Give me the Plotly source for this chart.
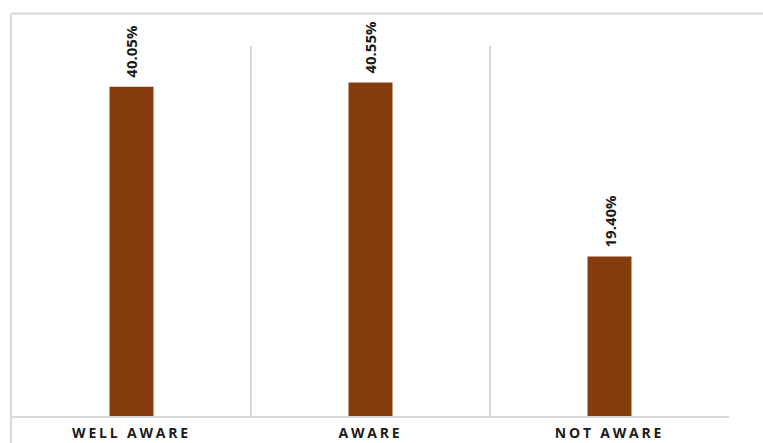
import plotly.graph_objects as go

categories = ["WELL AWARE", "AWARE", "NOT AWARE"]
values = [40.05, 40.55, 19.40]
labels = ["40.05%", "40.55%", "19.40%"]

BAR_COLOR = "#843C0C"
GRID = "#d9d9d9"

fig = go.Figure()
fig.add_trace(go.Bar(
    x=categories, y=values,
    marker=dict(color=BAR_COLOR, line=dict(width=0)),
    hoverinfo="skip",
))

for c, v, t in zip(categories, values, labels):
    fig.add_annotation(
        x=c, y=v, text=t, textangle=-90, showarrow=False,
        xanchor="center", yanchor="bottom", yshift=7,
        font=dict(family="Open Sans", size=15, color="#1a1a1a", weight="bold"),
    )

# chart border (top and left edges visible)
fig.add_shape(type="line", xref="paper", yref="paper",
              x0=-0.0015, x1=1.2, y0=1.0878, y1=1.0878,
              line=dict(color=GRID, width=2))
fig.add_shape(type="line", xref="paper", yref="paper",
              x0=-0.0015, x1=-0.0015, y0=-0.2, y1=1.0878,
              line=dict(color=GRID, width=2))

fig.update_layout(
    width=763, height=443,
    margin=dict(l=12, r=34, t=46, b=27),
    paper_bgcolor="white", plot_bgcolor="white",
    bargap=0.816,
    showlegend=False,
    xaxis=dict(
        type="category", tickson="boundaries",
        showgrid=True, gridcolor=GRID, gridwidth=1.5,
        showline=True, linecolor=GRID, linewidth=2,
        ticks="", ticklabelstandoff=3, automargin=False,
        tickfont=dict(family="Open Sans", size=14, color="#1a1a1a", weight="bold"),
        fixedrange=True,
    ),
    yaxis=dict(
        range=[0, 45], visible=False, showgrid=False, zeroline=False,
        fixedrange=True, automargin=False,
    ),
)

post = """
document.querySelectorAll('.xtick text').forEach(function(t){
  t.style.letterSpacing = '2.8px';
});
"""

fig.write_html("out.html", post_script=post, config={"displayModeBar": False})
